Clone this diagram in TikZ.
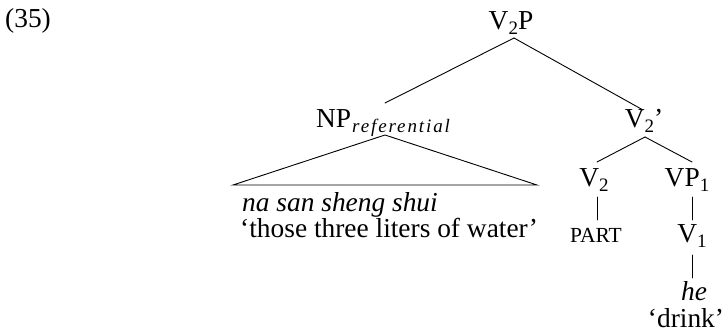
\documentclass[tikz,border=0pt]{standalone}
\usepackage{fontspec}
\setmainfont{Liberation Serif}
\usetikzlibrary{calc}
\newcommand{\mysub}[1]{\raisebox{-0.15em}{\fontsize{19}{19}\selectfont #1}}
\newcommand{\mysubit}[1]{\kern1pt\raisebox{-0.15em}{\fontsize{19}{19}\selectfont\itshape\addfontfeature{LetterSpace=10}#1}}
\begin{document}
\begin{tikzpicture}[x=1pt,y=-1pt,
  lbl/.style={inner sep=0pt,anchor=base,font=\fontsize{27.4}{33}\selectfont},
  smallcap/.style={inner sep=0pt,anchor=base,font=\fontsize{21.5}{24}\selectfont},
  edge/.style={line width=0.9pt,line cap=round}]
\useasboundingbox[fill=white] (0,0) rectangle (727,336);
\node[lbl,anchor=base west] (ex) at (5,28) {(35)};
\node[lbl] (v2p) at (511,30) {V\mysub{2}P};
\node[lbl,anchor=base west] (np) at (316,128) {NP\mysubit{referential}};
\node[lbl] (v2bar) at (644,128) {V\mysub{2}’};
\node[lbl] (v2) at (594,187) {V\mysub{2}};
\node[lbl] (vp1) at (687,187) {VP\mysub{1}};
\node[smallcap] (part) at (596,243) {PART};
\node[lbl] (v1) at (692,243) {V\mysub{1}};
\node[lbl] (he) at (694,300) {\itshape he};
\node[lbl] (drink) at (686,327) {‘drink’};
\node[lbl,anchor=base west] (nass) at (242,212) {\itshape na san sheng shui};
\node[lbl,anchor=base west] (gloss) at (240,238) {‘those three liters of water’};
\draw[edge] ($(v2p.base)+(3,8)$) -- ($(np.base west)+(69,-25)$);
\draw[edge] ($(v2p.base)+(3,8)$) -- ($(v2bar.base)+(-1,-18)$);
\draw[edge] ($(np.base west)+(69,7)$) -- ($(np.base west)+(-83,57)$) -- ($(np.base west)+(221,57)$) -- cycle;
\draw[edge] ($(v2bar.base)+(1,9)$) -- ($(v2.base)+(3,-25)$);
\draw[edge] ($(v2bar.base)+(1,9)$) -- ($(vp1.base)+(5,-25)$);
\draw[edge] ($(v2.base)+(3,10)$) -- ($(part.base)+(1,-23)$);
\draw[edge] ($(vp1.base)+(5,10)$) -- ($(v1.base)+(0,-23)$);
\draw[edge] ($(v1.base)+(0,12)$) -- ($(he.base)+(-2,-22)$);
\end{tikzpicture}
\end{document}
